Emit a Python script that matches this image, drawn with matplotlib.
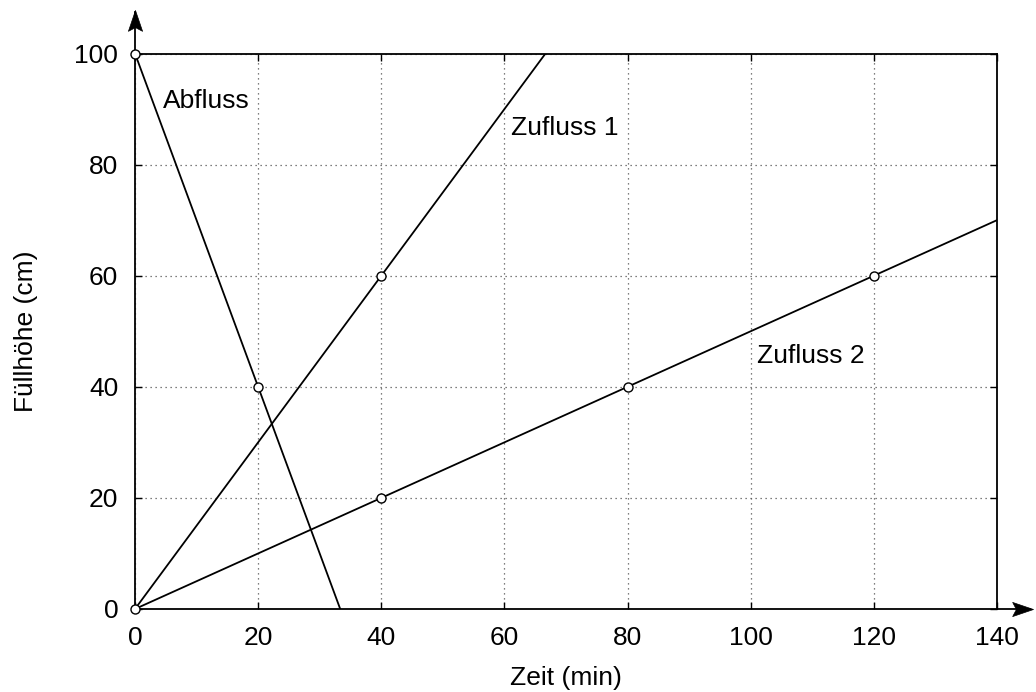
import matplotlib
matplotlib.use("Agg")
import matplotlib.pyplot as plt
from matplotlib.path import Path
import numpy as np

plt.rcParams["font.family"] = ["Liberation Sans", "DejaVu Sans"]
plt.rcParams["font.size"] = 19

# line end points and marked points (min, cm)
abfluss_x = [0, 33.33]
abfluss_y = [100, 0]
abfluss_px = [0, 20]
abfluss_py = [100, 40]

zufluss1_x = [0, 66.67]
zufluss1_y = [0, 100]
zufluss1_px = [0, 40]
zufluss1_py = [0, 60]

zufluss2_x = [0, 140]
zufluss2_y = [0, 70]
zufluss2_px = [40, 80, 120]
zufluss2_py = [20, 40, 60]

xticks = [0, 20, 40, 60, 80, 100, 120, 140]
yticks = [0, 20, 40, 60, 80, 100]

fig = plt.figure(figsize=(10.36, 6.92), dpi=100)
fig.subplots_adjust(left=135/1036, right=997/1036, bottom=1-609/692, top=1-53.5/692)
ax = fig.add_subplot(111)

ax.set_xlim(0, 140); ax.set_ylim(0, 100)
ax.set_xticks(xticks); ax.set_yticks(yticks)
ax.grid(True, ls=(0, (1, 3)), color="#555555", lw=0.9)
ax.tick_params(direction="in", length=5, width=1, top=True, right=True)
ax.tick_params(axis="x", pad=12)
ax.tick_params(axis="y", pad=12)
for s in ax.spines.values():
    s.set_linewidth(1.3)

for xs, ys, px, py in [(abfluss_x, abfluss_y, abfluss_px, abfluss_py),
                       (zufluss1_x, zufluss1_y, zufluss1_px, zufluss1_py),
                       (zufluss2_x, zufluss2_y, zufluss2_px, zufluss2_py)]:
    ax.plot(xs, ys, color="black", lw=1.3, zorder=3)
    ax.plot(px, py, "o", ms=6.5, mfc="white", mec="black", mew=1.0, zorder=4, clip_on=False)

ax.text(4.5, 91.5, "Abfluss", ha="left", va="center")
ax.text(61, 86.5, "Zufluss 1", ha="left", va="center")
ax.text(101, 45.5, "Zufluss 2", ha="left", va="center")

ax.set_xlabel("Zeit (min)", labelpad=12)
ax.set_ylabel("Füllhöhe (cm)", labelpad=26)

# axis arrows (notched head, tip at the marker origin)
def head(angle):
    v = np.array([[0, 0], [-1, 0.34], [-0.82, 0], [-1, -0.34], [0, 0]])
    a = np.deg2rad(angle)
    r = np.array([[np.cos(a), -np.sin(a)], [np.sin(a), np.cos(a)]])
    return Path(v @ r.T, [Path.MOVETO, Path.LINETO, Path.LINETO, Path.LINETO, Path.CLOSEPOLY])

ax.plot([0, 0], [1, 1.075], color="black", lw=1.3, transform=ax.transAxes, clip_on=False)
ax.plot([0], [1.079], marker=head(90), ms=30, color="black", mew=0.5,
        transform=ax.transAxes, clip_on=False)
ax.plot([1, 1.038], [0, 0], color="black", lw=1.3, transform=ax.transAxes, clip_on=False)
ax.plot([1.042], [0], marker=head(0), ms=30, color="black", mew=0.5,
        transform=ax.transAxes, clip_on=False)

fig.savefig("out.png", dpi=100)
